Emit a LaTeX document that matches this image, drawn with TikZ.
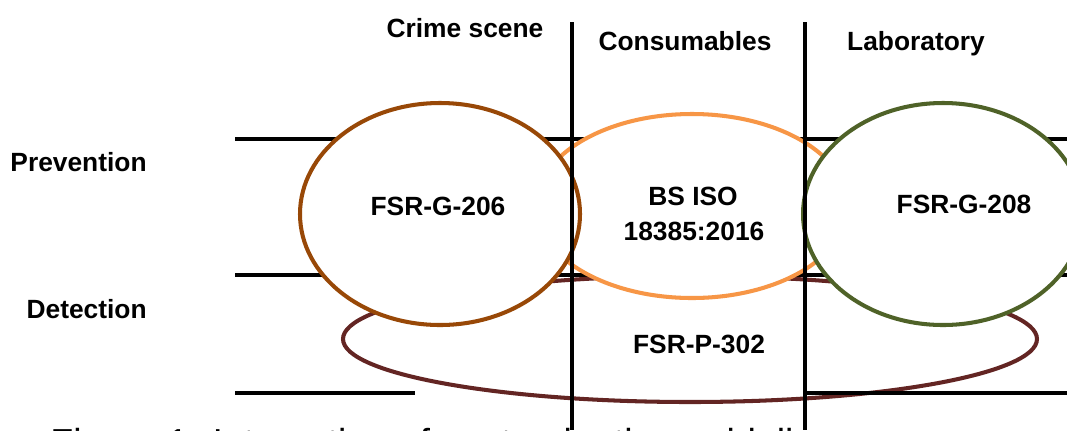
\documentclass[tikz,border=0pt]{standalone}
\usepackage{fontspec}
\setmainfont{Liberation Sans}
\definecolor{scenebrown}{HTML}{984807}
\definecolor{consorange}{HTML}{F79646}
\definecolor{labgreen}{HTML}{4F6228}
\definecolor{detectred}{HTML}{632523}
\tikzset{
  rule/.style={line width=2.3pt,black},
  zone/.style={line width=2.3pt,draw=#1,fill=white},
  lbl/.style={font=\fontsize{15}{18}\selectfont\bfseries,inner sep=0pt},
}
\begin{document}
\begin{tikzpicture}[x=0.02cm,y=-0.02cm]
\useasboundingbox (0,0) rectangle (1067,430);
% rows
\draw[rule] (235,139)--(1067,139);
\draw[rule] (235,275)--(1067,275);
\draw[rule] (235,393)--(415,393);
% detection ellipse
\draw[zone=detectred] (690,339) ellipse [x radius=347,y radius=63];
\draw[rule] (805,393)--(1067,393);
% prevention ellipses
\draw[zone=consorange] (692,206) ellipse [x radius=156,y radius=92];
\draw[zone=scenebrown] (440,214) ellipse [x radius=140,y radius=111];
\draw[zone=labgreen] (943,214) ellipse [x radius=140,y radius=111];
% columns
\coordinate (c1top) at (572,22);
\coordinate (c1bot) at (572,430);
\coordinate (c2top) at (805,22);
\coordinate (c2bot) at (805,430);
\draw[rule] (c1top)--(c1bot);
\draw[rule] (c2top)--(c2bot);
% headings
\node[lbl,anchor=base] (crime) at (465,37) {Crime scene};
\node[lbl,anchor=base] (cons) at (685,50) {Consumables};
\node[lbl,anchor=base] (lab) at (916,50) {Laboratory};
\node[lbl,anchor=base east] (prev) at (147,171) {Prevention};
\node[lbl,anchor=base east] (det) at (147,318) {Detection};
% guidelines
\node[lbl,anchor=base] (g206) at (438,215) {FSR-G-206};
\node[lbl,anchor=base] (iso) at (693,205) {BS ISO};
\node[lbl,anchor=base] (isonum) at (694,240) {18385:2016};
\node[lbl,anchor=base] (g208) at (964,213) {FSR-G-208};
\node[lbl,anchor=base] (p302) at (699,353) {FSR-P-302};
% caption
\node[anchor=base west,inner sep=0pt,font=\fontsize{21.4}{26}\selectfont] (caption) at (50,455) {Figure 1: Interaction of contamination guidelines};
\end{tikzpicture}
\end{document}
